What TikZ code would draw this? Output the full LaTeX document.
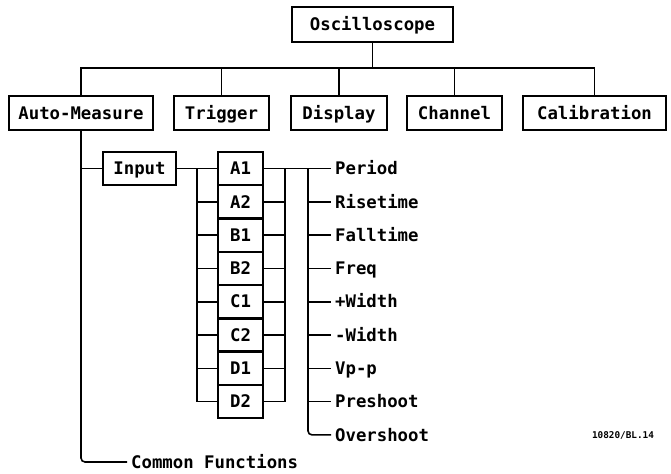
\documentclass[tikz,border=0pt]{standalone}
\usepackage{fontspec}
\setmonofont{DejaVu Sans Mono}
\tikzset{
  menubox/.style={draw,line width=1.8pt,inner sep=0pt,minimum height=25.5pt,
    text height=9.4pt,text depth=0pt,
    font=\ttfamily\bfseries\fontsize{13}{13}\selectfont},
  cellbox/.style={draw,line width=1.8pt,inner sep=0pt,minimum width=33.75pt,minimum height=25pt,
    text height=9.4pt,text depth=0pt,
    font=\ttfamily\bfseries\fontsize{13}{13}\selectfont},
  lbl/.style={anchor=west,inner sep=2.5pt,text height=9.4pt,text depth=0pt,
    font=\ttfamily\bfseries\fontsize{13}{13}\selectfont},
}
\begin{document}
\begin{tikzpicture}[x=0.75pt,y=-0.75pt,line width=1.2pt]
\useasboundingbox[fill=white] (0,0) rectangle (671,474);
% top of the tree
\node[menubox,minimum width=120.75pt,minimum height=26.25pt] (osc) at (372.5,24.5) {Oscilloscope};
\node[menubox,minimum width=108pt] (auto) at (81,113) {Auto-Measure};
\node[menubox,minimum width=71.25pt] (trig) at (221.5,113) {Trigger};
\node[menubox,minimum width=72pt] (disp) at (339,113) {Display};
\node[menubox,minimum width=71.25pt] (chan) at (454.5,113) {Channel};
\node[menubox,minimum width=107.25pt] (cal) at (594.5,113) {Calibration};
\coordinate (bus) at (0,68);
\draw (osc.south) -- (osc.south |- bus);
\draw (auto.north) |- (cal.north |- bus) -- (cal.north);
\draw (trig.north) -- (trig.north |- bus);
\draw (disp.north) -- (disp.north |- bus);
\draw (chan.north) -- (chan.north |- bus);
% input and channels
\node[menubox,minimum width=54.75pt,minimum height=24.75pt] (inp) at (139.5,168.5) {Input};
\node[cellbox] (A1) at (240.5,168.5) {A1};
\node[cellbox] (A2) at (240.5,201.8) {A2};
\node[cellbox] (B1) at (240.5,235.1) {B1};
\node[cellbox] (B2) at (240.5,268.4) {B2};
\node[cellbox] (C1) at (240.5,301.7) {C1};
\node[cellbox] (C2) at (240.5,335.0) {C2};
\node[cellbox] (D1) at (240.5,368.3) {D1};
\node[cellbox] (D2) at (240.5,401.6) {D2};
\coordinate (lbus) at (197,0);
\coordinate (rbus) at (285,0);
\draw (inp.east) -- (A1.west);
\draw (lbus |- A1.west) -- (lbus |- D2.west);
\draw (lbus |- A2.west) -- (A2.west);
\draw (lbus |- B1.west) -- (B1.west);
\draw (lbus |- B2.west) -- (B2.west);
\draw (lbus |- C1.west) -- (C1.west);
\draw (lbus |- C2.west) -- (C2.west);
\draw (lbus |- D1.west) -- (D1.west);
\draw (lbus |- D2.west) -- (D2.west);
\draw (rbus |- A1.east) -- (rbus |- D2.east);
\draw (A2.east) -- (rbus |- A2.east);
\draw (B1.east) -- (rbus |- B1.east);
\draw (B2.east) -- (rbus |- B2.east);
\draw (C1.east) -- (rbus |- C1.east);
\draw (C2.east) -- (rbus |- C2.east);
\draw (D1.east) -- (rbus |- D1.east);
\draw (D2.east) -- (rbus |- D2.east);
% measurements
\node[lbl] (per) at (331,168.5) {Period};
\node[lbl] (rise) at (331,201.8) {Risetime};
\node[lbl] (fall) at (331,235.1) {Falltime};
\node[lbl] (freq) at (331,268.4) {Freq};
\node[lbl] (pwid) at (331,301.7) {+Width};
\node[lbl] (nwid) at (331,335.0) {-Width};
\node[lbl] (vpp) at (331,368.3) {Vp-p};
\node[lbl] (pre) at (331,401.6) {Preshoot};
\node[lbl] (over) at (331,434.9) {Overshoot};
\coordinate (mbus) at (308,0);
\draw (A1.east) -- (per.west);
\draw[rounded corners=3pt] (mbus |- per.west) |- (over.west);
\draw (mbus |- rise.west) -- (rise.west);
\draw (mbus |- fall.west) -- (fall.west);
\draw (mbus |- freq.west) -- (freq.west);
\draw (mbus |- pwid.west) -- (pwid.west);
\draw (mbus |- nwid.west) -- (nwid.west);
\draw (mbus |- vpp.west) -- (vpp.west);
\draw (mbus |- pre.west) -- (pre.west);
% common functions
\node[lbl] (comm) at (127,462) {Common Functions};
\draw (auto.south) |- (inp.west);
\draw[rounded corners=3pt] (auto.south) |- (comm.west);
\node[font=\ttfamily\bfseries\fontsize{7}{7}\selectfont] (fig) at (623,435) {10820/BL.14};
\end{tikzpicture}
\end{document}
